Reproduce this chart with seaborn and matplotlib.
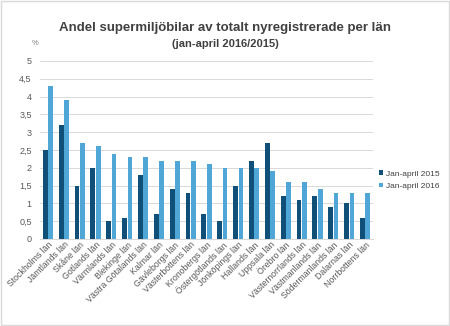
import matplotlib
matplotlib.use("Agg")
import matplotlib.pyplot as plt
import seaborn as sns
import pandas as pd

counties = ["Stockholms län", "Jämtlands län", "Skåne län", "Gotlands län", "Värmlands län",
            "Blekinge län", "Västra Götalands län", "Kalmar län", "Gävleborgs län",
            "Västerbottens län", "Kronobergs län", "Östergötlands län", "Jönköpings län",
            "Hallands län", "Uppsala län", "Örebro län", "Västernorrlands län",
            "Västmanlands län", "Södermanlands län", "Dalarnas län", "Norrbottens län"]
y2015 = [2.5, 3.2, 1.5, 2.0, 0.5, 0.6, 1.8, 0.7, 1.4, 1.3, 0.7, 0.5, 1.5, 2.2, 2.7,
         1.2, 1.1, 1.2, 0.9, 1.0, 0.6]
y2016 = [4.3, 3.9, 2.7, 2.6, 2.4, 2.3, 2.3, 2.2, 2.2, 2.2, 2.1, 2.0, 2.0, 2.0, 1.9,
         1.6, 1.6, 1.4, 1.3, 1.3, 1.3]
series = ["Jan-april 2015", "Jan-april 2016"]
yticks = [0, 0.5, 1, 1.5, 2, 2.5, 3, 3.5, 4, 4.5, 5]
ytick_labels = ["0", "0,5", "1", "1,5", "2", "2,5", "3", "3,5", "4", "4,5", "5"]

df = pd.DataFrame({
    "län": counties * 2,
    "värde": y2015 + y2016,
    "serie": [series[0]] * len(counties) + [series[1]] * len(counties),
})

sns.set_theme(style="white")
plt.rcParams['font.family'] = ['Liberation Sans', 'DejaVu Sans']

fig = plt.figure(figsize=(4.5, 3.26), dpi=100)
ax = fig.add_axes([0.089, 0.267, 0.74, 0.546])
palette = {series[0]: "#0f4f78", series[1]: "#4fa6d7"}
sns.barplot(data=df, x="län", y="värde", hue="serie", palette=palette, ax=ax,
            width=0.68, gap=0.12, saturation=1, legend=True, linewidth=0)

ax.set_ylim(0, 5)
ax.set_yticks(yticks)
ax.set_yticklabels(ytick_labels)
ax.yaxis.grid(True, color="#d9d9d9", linewidth=0.7)
ax.set_axisbelow(True)
ax.set_xlim(-0.5, len(counties) - 0.5)
for s in ["top", "right", "left"]:
    ax.spines[s].set_visible(False)
ax.spines["bottom"].set_color("#d9d9d9")
ax.spines["bottom"].set_linewidth(0.7)
ax.set_xlabel("")
ax.set_ylabel("")
ax.tick_params(axis="y", labelsize=6.5, colors="#595959", length=0, pad=6)
ax.tick_params(axis="x", labelsize=6.3, colors="#595959", length=0, pad=1)
plt.setp(ax.get_xticklabels(), rotation=45, ha="right", rotation_mode="anchor")

leg = ax.legend(loc="center left", bbox_to_anchor=(1.0, 0.33), frameon=False,
                fontsize=6, handlelength=0.5, handleheight=0.5, handletextpad=0.4,
                labelspacing=0.6, borderaxespad=0.3)
for t in leg.get_texts():
    t.set_color("#404040")

fig.text(0.5, 0.915, "Andel supermiljöbilar av totalt nyregistrerade per län",
         ha="center", va="center", fontsize=9.5, fontweight="bold", color="#404040")
fig.text(0.5, 0.865, "(jan-april 2016/2015)", ha="center", va="center",
         fontsize=8, fontweight="bold", color="#404040")
fig.text(0.078, 0.868, "%", ha="center", va="center", fontsize=5.5, color="#808080")

border = plt.Rectangle((0.002, 0.003), 0.996, 0.994, transform=fig.transFigure,
                       fill=False, edgecolor="#d9d9d9", linewidth=1)
fig.add_artist(border)

fig.savefig("out.png", dpi=100)
